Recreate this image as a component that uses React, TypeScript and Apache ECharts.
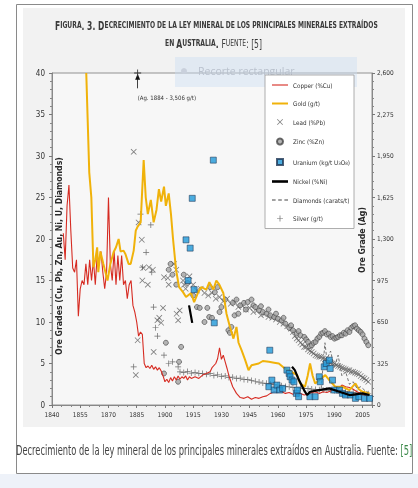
import React, { useEffect, useRef } from 'react';
import * as echarts from 'echarts';

const FAM = "'Liberation Sans Narrow', 'DejaVu Sans Condensed', 'Liberation Sans', sans-serif";

// ---- data (year, value) ----
const copper: [number, number][] = [
  [1846, 20.7], [1847, 17.5], [1848, 24], [1849, 26.5], [1850, 21], [1851, 16.5], [1852, 16], [1853, 17.5], [1854, 10.7],
  [1855, 14], [1856, 15], [1857, 14.5], [1858, 17], [1859, 14.5], [1860, 17.5], [1861, 15], [1862, 17.5], [1863, 14.5],
  [1864, 18], [1865, 17], [1866, 18.5], [1867, 16], [1868, 14], [1869, 16], [1870, 25], [1871, 17], [1872, 15], [1873, 18.5],
  [1874, 14.5], [1875, 18], [1876, 15], [1877, 18], [1878, 14.5], [1879, 15], [1880, 12.8], [1881, 14.5], [1882, 15],
  [1883, 12], [1884, 11.2], [1885, 10], [1886, 8.3], [1887, 8.8], [1888, 8.5], [1889, 5], [1890, 4.5], [1891, 4.7],
  [1892, 4.4], [1893, 4.8], [1894, 4.3], [1895, 4.6], [1896, 4.2], [1897, 4.5], [1898, 4.1], [1899, 3.5], [1900, 2.8],
  [1901, 3.1], [1902, 2.7], [1903, 3.3], [1904, 2.9], [1905, 3.4], [1906, 3], [1907, 3.5], [1908, 3.1], [1909, 3.4],
  [1910, 3.2], [1911, 3.5], [1912, 3], [1913, 3.4], [1914, 3.2], [1916, 3.4], [1918, 3.2], [1920, 3.6], [1922, 3.8],
  [1924, 4], [1925, 4.5], [1927, 5], [1928, 5.6], [1929, 6.9], [1930, 5.5], [1931, 6], [1932, 5.2], [1933, 4.4],
  [1934, 3.5], [1936, 2.2], [1938, 1.4], [1940, 0.9], [1942, 0.8], [1944, 1], [1946, 0.7], [1948, 0.9], [1950, 0.8],
  [1952, 1], [1954, 1.1], [1956, 1.4], [1958, 1.6], [1960, 1.5], [1962, 1.6], [1964, 1.4], [1966, 1.5], [1968, 1.3],
  [1970, 1.5], [1972, 1.4], [1974, 1.2], [1976, 1.3], [1978, 1.5], [1980, 1.6], [1982, 1.4], [1984, 1.6], [1986, 1.5],
  [1988, 1.7], [1990, 1.8], [1992, 1.9], [1994, 2.4], [1996, 2.2], [1998, 2.1], [2000, 1.9], [2002, 1.6], [2004, 1.4],
  [2006, 1.2], [2008, 1],
];

const gold: [number, number][] = [
  [1858.2, 40], [1859.8, 28], [1860.9, 25], [1862, 16.6], [1863, 17.5], [1864, 19], [1864.6, 16], [1865.7, 18.5],
  [1867.3, 17], [1868.4, 16], [1869.5, 15], [1871, 17], [1872.7, 18.4], [1874, 19], [1875.4, 20], [1876.4, 18.5],
  [1878, 18.6], [1879, 18.2], [1880.7, 17], [1881.8, 17], [1883.4, 18.6], [1884.5, 21], [1885.5, 21.5], [1887.1, 22],
  [1888.7, 29.5], [1889.8, 25], [1890.9, 23], [1892.5, 24.7], [1894, 22], [1895.5, 23.5], [1896.8, 26], [1898, 24.5],
  [1899.5, 26.3], [1900.5, 24], [1902, 25.5], [1903.2, 23], [1904.3, 20], [1905.9, 16.3], [1907.5, 14.2], [1909.6, 13.6],
  [1911.2, 13], [1913.9, 13.5], [1915.5, 12.4], [1917.7, 13.6], [1919.3, 14.2], [1922, 13.9], [1923.6, 14.8],
  [1925.7, 13.9], [1927.3, 15], [1928.9, 14.5], [1931, 13.5], [1932.7, 11], [1934.3, 9.6], [1936.4, 8], [1938, 9.4],
  [1939.1, 7.5], [1940.7, 6.6], [1942.5, 5.5], [1944.4, 4.2], [1946, 4.8], [1949.8, 5], [1952, 5.3], [1955.2, 5.2],
  [1958, 5.1], [1960.5, 5], [1963.7, 4.4], [1965.9, 4.2], [1968, 3.9], [1970.2, 3.6], [1971.8, 2.6], [1974.4, 2.2],
  [1975.8, 3.5], [1977.1, 5], [1978.5, 3.5], [1979.8, 2.6], [1982, 3], [1985.2, 3.6], [1987.3, 3], [1990.5, 2.2],
  [1994.3, 2.2], [1998, 1.8], [2001.2, 2.6], [2003, 1.9], [2005, 1.6], [2008.7, 1.4],
];

const lead: [number, number][] = [
  [1883.4, 30.5], [1884.5, 3.6], [1885.5, 7.8], [1886, 22], [1887.7, 19.9], [1888, 15], [1888.5, 16.5], [1890.9, 14.5],
  [1891.5, 16.6], [1893.6, 16.3], [1894, 6.4], [1896, 10.2], [1897, 10.5], [1898, 9.9], [1899, 11.7], [1899.5, 15.4],
  [1901.5, 15.3], [1902, 14.5], [1904.8, 17], [1906, 16.3], [1906.2, 11], [1907, 10.2], [1907.8, 11.4], [1909.6, 15],
  [1910.2, 14.5], [1911, 14], [1913, 15.5], [1915, 14.5], [1917, 13.8], [1919, 14], [1921, 13.5], [1923, 13.2],
  [1925, 13.5], [1927, 12.8], [1929, 13], [1931, 12.5], [1933, 12.8], [1935, 12.2], [1937, 12.4], [1939, 11.8],
  [1941, 12], [1943, 11.5], [1945, 11.7], [1947, 11.2], [1949, 11.4], [1951, 10.8], [1953, 11], [1955, 10.6],
  [1957, 10.5], [1959, 10.3], [1961, 10], [1963, 9.8], [1965, 9.5], [1967, 9.2], [1968, 8.8], [1969, 8.3], [1970, 8],
  [1971, 7.8], [1972, 7.5], [1973, 7.3], [1974, 7], [1975, 7], [1976, 6.7], [1977, 6.5], [1978, 6.4], [1979, 6.2],
  [1980, 6], [1981, 5.9], [1982, 5.8], [1983, 5.8], [1984, 5.6], [1985, 5.5], [1986, 5.4], [1987, 5.2], [1988, 5.1],
  [1989, 5], [1990, 5], [1991, 4.8], [1992, 4.7], [1993, 4.6], [1994, 4.5], [1995, 4.4], [1996, 4.3], [1997, 4.2],
  [1998, 4.2], [1999, 4], [2000, 4], [2001, 3.9], [2002, 3.8], [2003, 3.7], [2004, 3.5], [2005, 3.3], [2006, 3.2],
  [2007, 3], [2008, 2.8],
];

const zinc: [number, number][] = [
  [1899.5, 3.8], [1900.5, 7.5], [1902, 16.3], [1903, 17], [1904, 15.7], [1906, 14.5], [1907, 2.8], [1907.5, 5.2],
  [1908.6, 7], [1910, 15.7], [1912, 14.7], [1915, 13.2], [1917, 11.8], [1918.5, 11.7], [1921, 10], [1922.5, 11.7],
  [1923.5, 10.6], [1924, 14.2], [1925, 10.5], [1926.5, 13.6], [1928, 14.2], [1929, 11.2], [1930, 11.8], [1932, 12.7],
  [1933.7, 9], [1934.5, 8.7], [1935.3, 9.4], [1936, 12.3], [1937, 10.8], [1938, 12.7], [1939, 11], [1940, 12],
  [1942, 12.3], [1943, 11.5], [1944, 12.4], [1946, 12.7], [1947, 12], [1948, 11.8], [1950, 11.4], [1951, 11.9],
  [1952, 11.2], [1954, 11], [1955, 11.5], [1956, 10.8], [1958, 10.6], [1959, 11], [1960, 10.4], [1962, 10.2],
  [1963, 10.5], [1964, 9.8], [1966, 9.3], [1967, 9.6], [1968, 9], [1970, 8.6], [1971, 8.9], [1972, 8.4], [1974, 8.2],
  [1975, 7.9], [1976, 7.6], [1977, 7.1], [1978, 7.2], [1979, 7.5], [1980, 7.6], [1981, 8], [1982, 8.2], [1983, 8.6],
  [1984, 8.7], [1985, 8.9], [1986, 8.5], [1987, 8.6], [1988, 8.2], [1989, 8.3], [1990, 8], [1991, 8.1], [1992, 8.2],
  [1993, 8.4], [1994, 8.4], [1995, 8.7], [1996, 8.6], [1997, 9], [1998, 8.8], [1999, 9.3], [2000, 9.5], [2001, 9.6],
  [2002, 9.2], [2003, 9], [2004, 8.8], [2005, 8.5], [2006, 8], [2007, 7.6], [2008, 7.2],
];

const uranium: [number, number][] = [
  [1911.2, 19.9], [1913.4, 18.9], [1914.5, 24.9], [1925.7, 29.5], [1912.3, 15], [1915.5, 13.9], [1926.2, 9.9],
  [1955.7, 6.6], [1955.2, 2.2], [1956.8, 3], [1958, 1.8], [1959.5, 2.4], [1961, 1.8], [1962.5, 2], [1964.8, 4.2],
  [1966, 3.8], [1966.5, 3.4], [1967.5, 3], [1968.5, 2.8], [1969.8, 1.4], [1970.3, 1.8], [1971, 1], [1977, 1],
  [1979.8, 1], [1982, 3.4], [1982.5, 2.8], [1984.6, 4.6], [1985.7, 5], [1987.3, 5.4], [1987.8, 4.4], [1989, 3],
  [1990, 1.8], [1992.7, 1.8], [1994.3, 1.4], [1995.9, 1.2], [1998.5, 1.2], [2001.2, 0.8], [2003, 1], [2006, 0.8],
  [2008.7, 0.8],
];

const nickel: [number, number | null][] = [
  [1912.8, 12], [1914.5, 9.9], [1940, null], [1967.5, 4.6], [1969, 4.2], [1971.2, 3], [1973.9, 1.8], [1975.5, 1.2],
  [1977.1, 1.6], [1982, 1.8], [1987.3, 2], [1992.7, 1.6], [1998, 1.2], [2005, 1.4], [2008.7, 1.2],
];

const diamonds: [number, number][] = [
  [1983, 2], [1985, 7.5], [1986, 5.5], [1988, 6.5], [1990, 4.5], [1992, 6], [1994, 3.5], [1996, 4], [1998, 2.5],
  [2000, 2.8], [2002, 2], [2004, 2.2], [2006, 1.8], [2008, 1.5],
];

// silver in g/t (right axis)
const silver: [number, number][] = [
  [1883.4, 299], [1887, 1495], [1888, 1079], [1890, 1196], [1892.5, 1410], [1893, 1040], [1894, 767], [1895, 605],
  [1896, 540], [1899.5, 390], [1902, 325], [1904, 338], [1907, 299],
  [1908, 260], [1910, 255], [1912, 262], [1914, 250], [1916, 255], [1918, 248], [1920, 247], [1922, 240], [1924, 245],
  [1926, 232], [1928, 236], [1930, 225], [1932, 228], [1934, 215], [1936, 218], [1938, 208], [1940, 210], [1942, 200],
  [1944, 198], [1946, 192], [1948, 186], [1950, 180], [1952, 172], [1954, 170], [1956, 165], [1958, 160], [1960, 156],
  [1962, 150], [1964, 145], [1966, 142], [1968, 138], [1970, 136], [1972, 132], [1974, 130], [1976, 128], [1978, 125],
  [1980, 122], [1982, 120], [1984, 118], [1986, 117], [1988, 116], [1990, 114], [1992, 110], [1994, 106], [1996, 104],
  [1998, 100], [2000, 97], [2002, 95], [2004, 93], [2006, 91], [2008, 88],
];

const CROSS = 'path://M0,0.9L0.9,0L5,4.1L9.1,0L10,0.9L5.9,5L10,9.1L9.1,10L5,5.9L0.9,10L0,9.1L4.1,5Z';
const PLUS = 'path://M4.4,0H5.6V4.4H10V5.6H5.6V10H4.4V5.6H0V4.4H4.4Z';
const LINE_THIN = 'path://M0,0H16V1.1H0Z';
const LINE_GOLD = 'path://M0,0H16V2H0Z';
const LINE_BOLD = 'path://M0,0H16V2.6H0Z';
const LINE_DASH = 'path://M0,0H3.5V1.2H0ZM6,0H9.5V1.2H6ZM12,0H15.5V1.2H12Z';
const SQUARE = 'path://M0,0H10V10H0Z';

const legendItems = [
  { name: 'Copper (%Cu)', icon: LINE_THIN },
  { name: 'Gold (g/t)', icon: LINE_GOLD },
  { name: 'Lead (%Pb)', icon: CROSS },
  { name: 'Zinc (%Zn)', icon: 'circle' },
  { name: 'Uranium (kg/t U3O8)', icon: SQUARE },
  { name: 'Nickel (%Ni)', icon: LINE_BOLD },
  { name: 'Diamonds (carats/t)', icon: LINE_DASH },
  { name: 'Silver (g/t)', icon: PLUS },
];

function measure(font: string, text: string): number {
  const c = document.createElement('canvas').getContext('2d');
  if (!c) return text.length * 5;
  c.font = font;
  return c.measureText(text).width;
}

export default function App() {
  const ref = useRef<HTMLDivElement>(null);
  useEffect(() => {
    if (!ref.current) return;
    const chart = echarts.init(ref.current, undefined, { renderer: 'svg' });

    const fB = (s: number, w = 'bold') => `${w} ${s}px ${FAM}`;
    const t1: [string, string][] = [['B', 'F'], ['s', 'IGURA'], ['B', '. 3. D'],
      ['s', 'ECRECIMIENTO DE LA LEY MINERAL DE LOS PRINCIPALES MINERALES EXTRAÍDOS']];
    const t2: [string, string][] = [['s', 'EN '], ['B', 'A'], ['s', 'USTRALIA'], ['B', '. '], ['N', 'F'], ['n', 'UENTE'], ['N', ': [5]']];
    const sizes: Record<string, [number, string]> = { B: [12, 'bold'], s: [9.5, 'bold'], N: [12, 'normal'], n: [9.5, 'normal'] };
    const wOf = (segs: [string, string][]) => segs.reduce((a, [k, t]) => a + measure(fB(sizes[k][0], sizes[k][1]), t), 0);
    const rich: any = {};
    Object.keys(sizes).forEach((k) => {
      rich[k] = { fontSize: sizes[k][0], fontWeight: sizes[k][1], fontFamily: FAM, fill: '#3a3a3a' };
    });
    const s1 = 323 / wOf(t1);
    const s2 = 97 / wOf(t2);
    const txt = (segs: [string, string][]) => segs.map(([k, t]) => `{${k}|${t}}`).join('');

    const capText = 'Decrecimiento de la ley mineral de los principales minerales extraídos en Australia. Fuente: ';
    const capFont = `normal 14px ${FAM}`;
    const capW = measure(capFont, capText) + measure(capFont, '[5]');
    const sCap = 396 / capW;

    const leftName = 'Ore Grades (Cu, Pb, Zn, Au, Ni, U, Diamonds)';
    const lnFont = `bold 9px ${FAM}`;
    const sLn = 198 / measure(lnFont, leftName);
    const rightName = 'Ore Grade (Ag)';
    const sRn = 66 / measure(lnFont, rightName);

    const option: any = {
      animation: false,
      backgroundColor: 'transparent',
      grid: {
        left: 52, right: 46, top: 73, bottom: 83, show: true,
        backgroundColor: '#f7f7f7', borderColor: '#7a7a7a', borderWidth: 0.8,
      },
      xAxis: {
        type: 'value', min: 1840, max: 2010, interval: 15,
        axisLine: { lineStyle: { color: '#7a7a7a', width: 0.8 } },
        axisTick: { length: 3, lineStyle: { color: '#777' } },
        minorTick: { show: true, splitNumber: 3, length: 2, lineStyle: { color: '#888' } },
        splitLine: { show: false },
        axisLabel: {
          showMaxLabel: false, fontSize: 6.5, color: '#333', fontFamily: FAM, margin: 6,
          formatter: (v: number) => String(v),
        },
      },
      yAxis: [
        {
          type: 'value', min: 0, max: 40, interval: 5,
          axisLine: { show: true, lineStyle: { color: '#7a7a7a', width: 0.8 } },
          axisTick: { show: true, length: 3, lineStyle: { color: '#777' } },
          minorTick: { show: true, splitNumber: 5, length: 2, lineStyle: { color: '#888' } },
          splitLine: { show: false },
          axisLabel: { fontSize: 8, color: '#333', fontFamily: FAM, margin: 7 },
        },
        {
          type: 'value', min: 0, max: 2600, interval: 325, position: 'right',
          axisLine: { show: true, lineStyle: { color: '#7a7a7a', width: 0.8 } },
          axisTick: { show: true, length: 3, lineStyle: { color: '#777' } },
          minorTick: { show: true, splitNumber: 5, length: 2, lineStyle: { color: '#888' } },
          splitLine: { show: false },
          axisLabel: {
            fontSize: 6.5, color: '#333', fontFamily: FAM, margin: 5,
            formatter: (v: number) => v.toLocaleString('en-US'),
          },
        },
      ],
      legend: {
        orient: 'vertical', left: 265, top: 75, itemWidth: 16, itemHeight: 6, itemGap: 12.5, z: 20,
        backgroundColor: '#ffffff', borderColor: '#9a9a9a', borderWidth: 0.8, borderRadius: 0,
        padding: [7, 4, 7, 7],
        textStyle: {
          fontSize: 6.3, color: '#333', fontFamily: FAM, lineHeight: 6,
          rich: { sub: { fontSize: 4.5, fontFamily: FAM, color: '#333', padding: [3, 0, 0, 0] } },
        },
        formatter: (name: string) => (name.indexOf('U3O8') >= 0 ? 'Uranium (kg/t U{sub|3}O{sub|8})' : name),
        data: legendItems,
      },
      series: [
        {
          name: 'Lead (%Pb)', type: 'scatter', data: lead, symbol: CROSS, symbolSize: 6,
          itemStyle: { color: '#5e5e5e' }, z: 2,
        },
        {
          name: 'Zinc (%Zn)', type: 'scatter', data: zinc, symbol: 'circle', symbolSize: 5,
          itemStyle: { color: '#a3a3a3', borderColor: '#444', borderWidth: 0.8 }, z: 3,
        },
        {
          name: 'Silver (g/t)', type: 'scatter', yAxisIndex: 1, data: silver, symbol: PLUS, symbolSize: 6,
          itemStyle: { color: '#4a4a4a' }, z: 3,
          markLine: {
            silent: true, animation: false, symbol: ['none', 'triangle'], symbolSize: [5, 6],
            label: { show: false },
            lineStyle: { color: '#111', width: 0.8, type: 'solid' },
            data: [[{ coord: [1885.5, 2480] }, { coord: [1885.5, 2570] }]],
          },
          markPoint: {
            silent: true, animation: false,
            data: [
              { coord: [1885.5, 2600], symbol: PLUS, symbolSize: 7, itemStyle: { color: '#333' }, label: { show: false } },
              {
                coord: [1885.5, 2410], symbol: 'circle', symbolSize: 0,
                label: {
                  show: true, position: 'right', distance: 0, formatter: '(Ag. 1884 - 3,506 g/t)',
                  fontSize: 6, color: '#333', fontFamily: FAM,
                },
              },
            ],
          },
        },
        {
          name: 'Copper (%Cu)', type: 'line', data: copper, symbol: 'none',
          lineStyle: { color: '#d62b22', width: 1.1 }, itemStyle: { color: '#d62b22' }, z: 4,
        },
        {
          name: 'Gold (g/t)', type: 'line', data: gold, symbol: 'none',
          lineStyle: { color: '#f0b20a', width: 2 }, itemStyle: { color: '#f0b20a' }, z: 5,
        },
        {
          name: 'Diamonds (carats/t)', type: 'line', data: diamonds, symbol: 'none',
          lineStyle: { color: '#666', width: 0.9, type: [3, 2] }, itemStyle: { color: '#444' }, z: 5,
        },
        {
          name: 'Uranium (kg/t U3O8)', type: 'scatter', data: uranium, symbol: 'rect', symbolSize: 6,
          itemStyle: { color: '#1f98d8', borderColor: '#1f3654', borderWidth: 0.7 }, z: 6,
        },
        {
          name: 'Nickel (%Ni)', type: 'line', data: nickel, symbol: 'none', connectNulls: false,
          lineStyle: { color: '#000', width: 2.2 }, itemStyle: { color: '#000' }, z: 7,
        },
      ],
      graphic: [
        { type: 'rect', silent: true, z: -100, shape: { x: 0, y: 474, width: 418, height: 14 }, style: { fill: '#eef2f9' } },
        { type: 'rect', silent: true, z: -99, shape: { x: 16.5, y: 4.5, width: 396, height: 469 }, style: { fill: '#ffffff', stroke: '#8a8a8a', lineWidth: 1 } },
        { type: 'rect', silent: true, z: -98, shape: { x: 23, y: 8, width: 382, height: 419 }, style: { fill: '#f2f2f2' } },
        {
          type: 'text', silent: true, z: 50, x: 216.5, y: 25, scaleX: s1,
          style: { text: txt(t1), rich, align: 'center', verticalAlign: 'middle', fill: '#3a3a3a' },
        },
        {
          type: 'text', silent: true, z: 50, x: 213.5, y: 43, scaleX: s2,
          style: { text: txt(t2), rich, align: 'center', verticalAlign: 'middle', fill: '#3a3a3a' },
        },
        {
          type: 'rect', silent: true, z: 3, shape: { x: 175, y: 57, width: 182, height: 30 },
          style: { fill: 'rgba(205,222,242,0.45)' },
        },
        { type: 'circle', silent: true, z: 3, shape: { cx: 184, cy: 71, r: 3 }, style: { fill: '#c9d0dc' } },
        {
          type: 'text', silent: true, z: 3, x: 198, y: 71,
          style: { text: 'Recorte rectangular', font: `normal 10.5px 'Open Sans', 'Liberation Sans', sans-serif`, fill: '#b9c1cd', align: 'left', verticalAlign: 'middle' },
        },
        {
          type: 'text', silent: true, z: 50, x: 59, y: 256, rotation: Math.PI / 2, scaleX: sLn,
          style: { text: leftName, font: lnFont, fill: '#2a2a2a', align: 'center', verticalAlign: 'middle' },
        },
        {
          type: 'text', silent: true, z: 50, x: 362, y: 240, rotation: Math.PI / 2, scaleX: sRn,
          style: { text: rightName, font: lnFont, fill: '#2a2a2a', align: 'center', verticalAlign: 'middle' },
        },
        {
          type: 'text', silent: true, z: 50, x: 16, y: 450, scaleX: sCap,
          style: {
            text: `{t|${capText}}{g|[5]}`,
            rich: {
              t: { fontSize: 14, fontFamily: FAM, fill: '#444' },
              g: { fontSize: 14, fontFamily: FAM, fill: '#3c8a4a' },
            },
            align: 'left', verticalAlign: 'middle',
          },
        },
      ],
    };
    chart.setOption(option);
    return () => chart.dispose();
  }, []);
  return <div ref={ref} style={{ position: 'fixed', left: 0, top: 0, width: 418, height: 488 }} />;
}
